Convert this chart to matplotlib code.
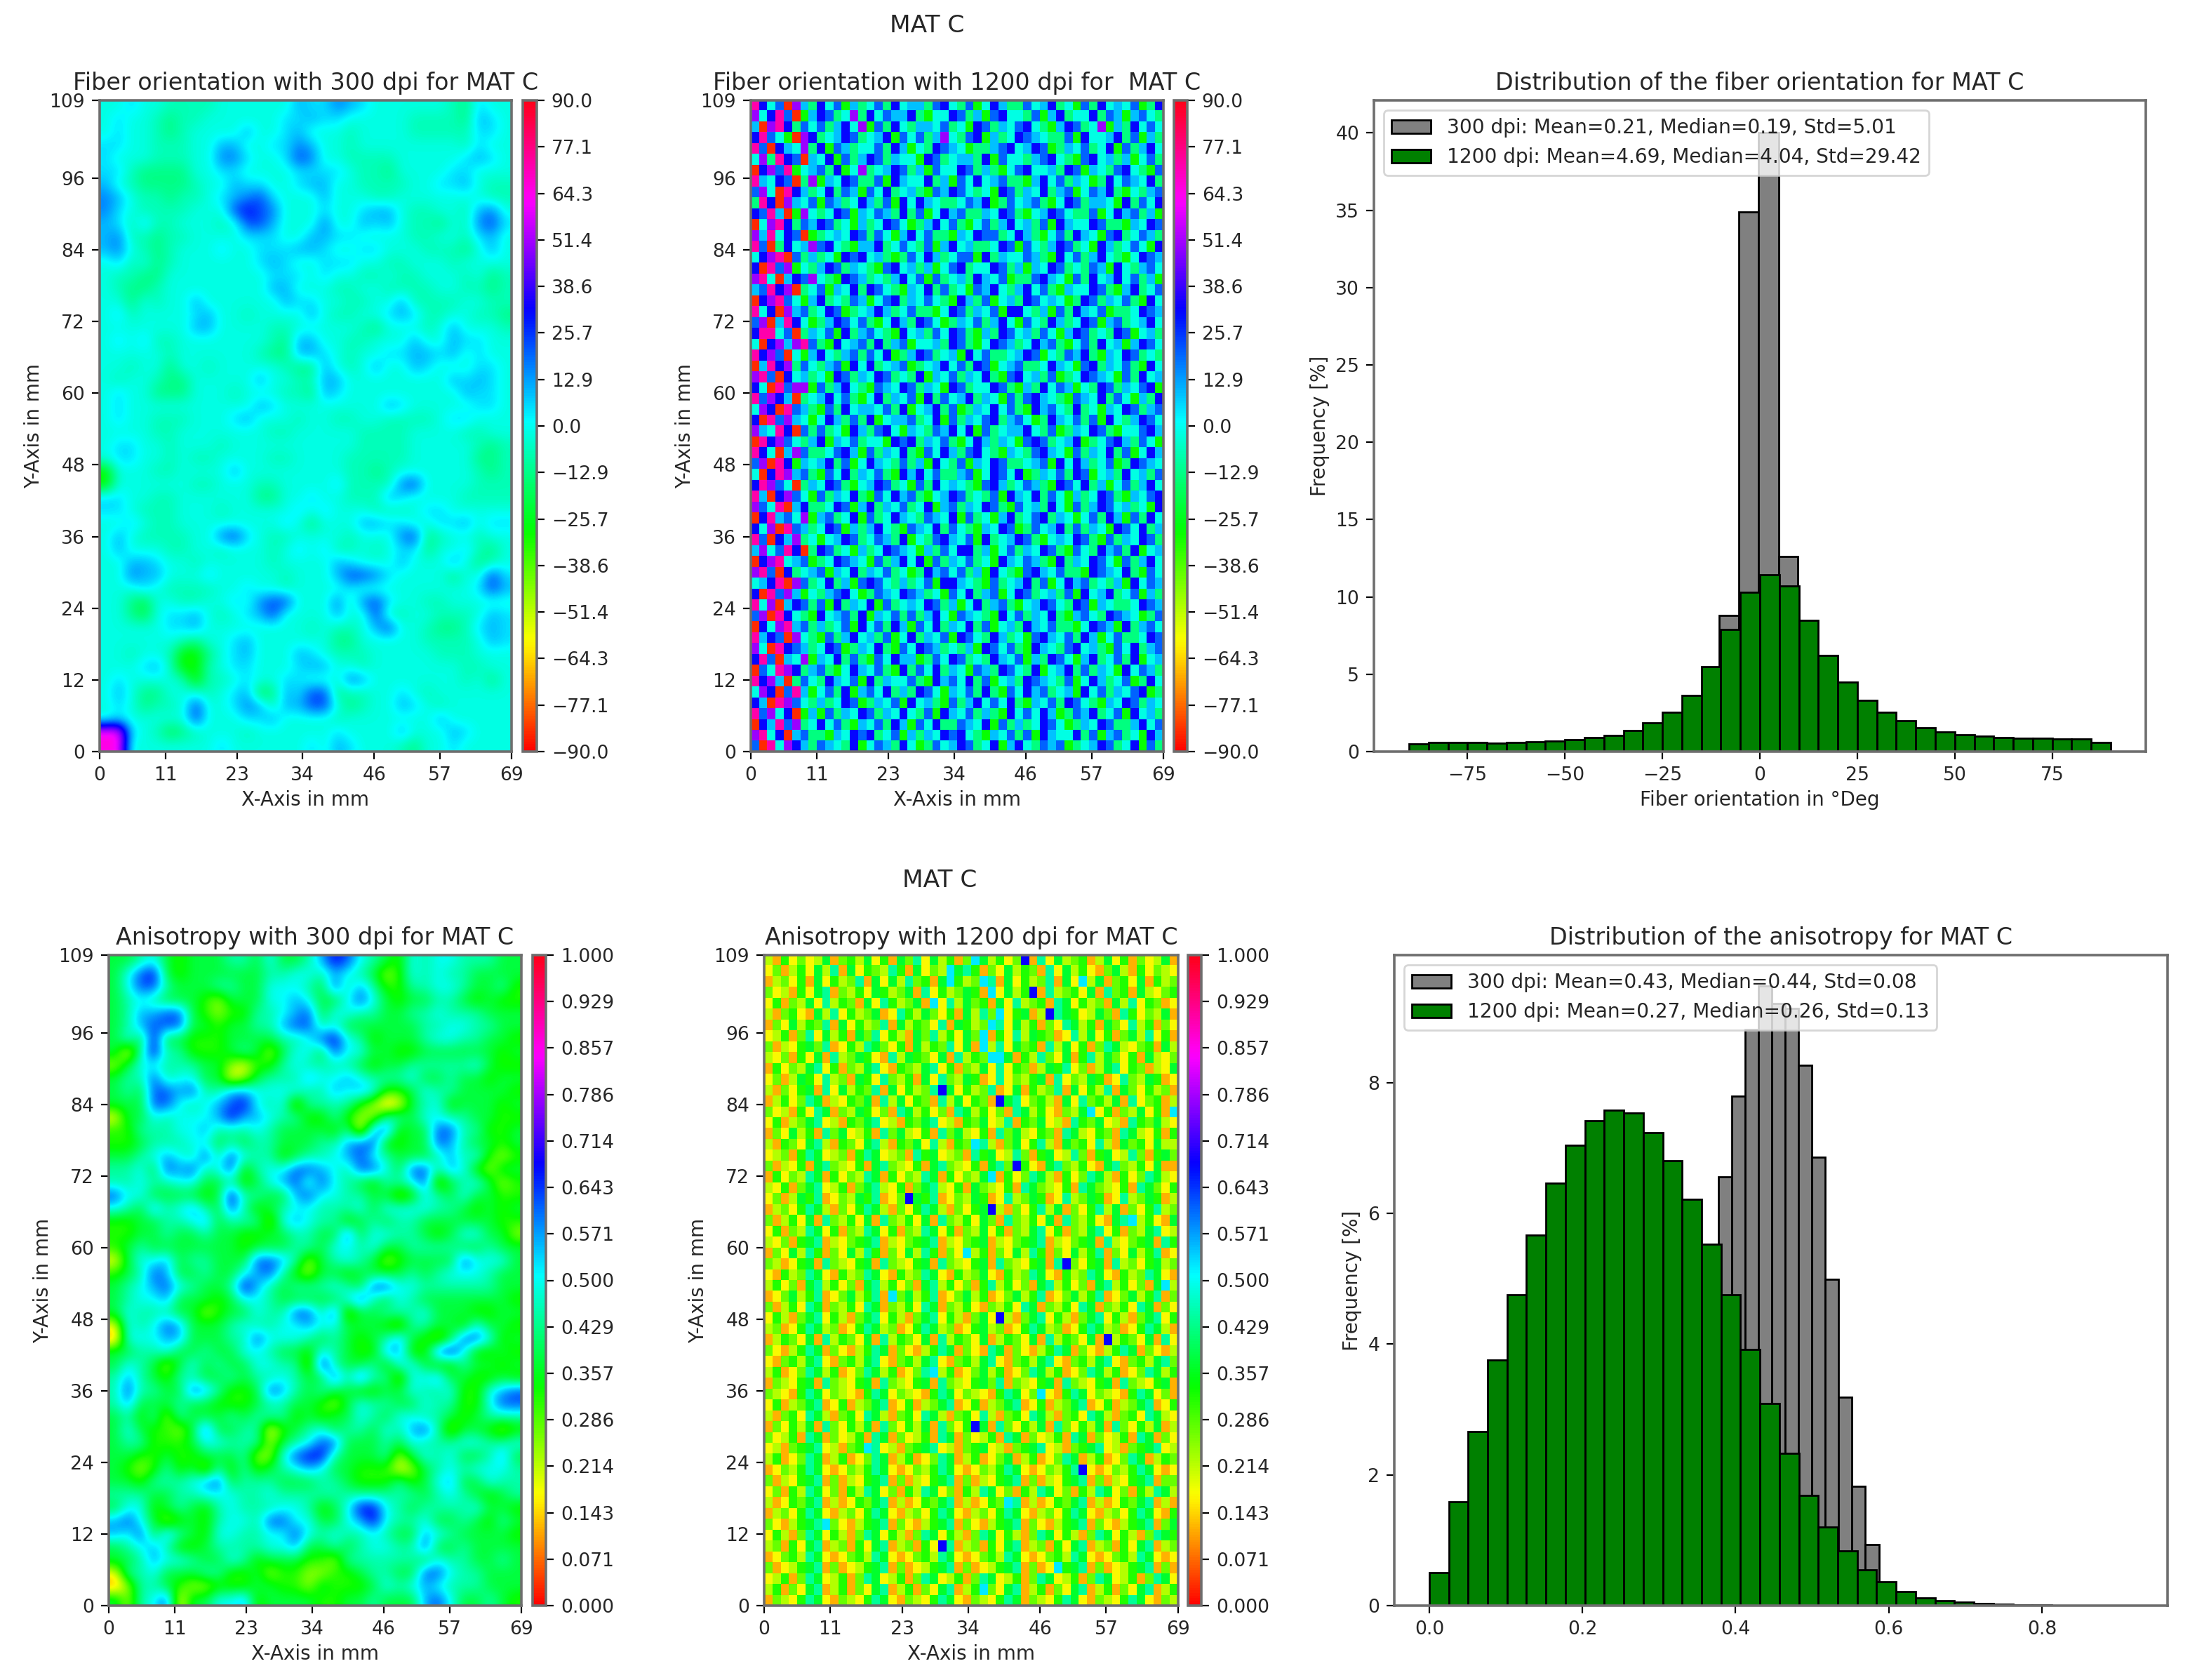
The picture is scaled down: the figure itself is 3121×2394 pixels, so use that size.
import numpy as np
import matplotlib
matplotlib.use("Agg")
import matplotlib.pyplot as plt

W, H, DPI = 3121, 2394, 200
TXT = "#262626"
plt.rcParams.update({"font.size": 9.6, "text.color": TXT, "axes.labelcolor": TXT,
                     "xtick.labelcolor": TXT, "ytick.labelcolor": TXT,
                     "axes.edgecolor": "#6e6e6e", "axes.linewidth": 1.3,
                     "xtick.major.size": 4, "ytick.major.size": 4})

KEYS = "0123456789m"

# maps: each character is one coarse cell, top row first
FO300_LEVELS = [-30, -20, -13, -7, -2, 5, 10, 16, 23, 32, 65]
FO300 = [
"44544333344444465576544444432544","45443233444444556554444433332654","45443234444644564443444433333554",
"55443334466445576443444444443544","54443334477544587443333444445654","55322224455444455554332444455444",
"64322223446554456644333344556433","76433233456785444644433444444433","75433334448987444544566433443674",
"65353344434886444744656433243785","67332334444555446655444433443564","67432344454455566544554443332464",
"45342344444456544555443344434444","43322444444445554544334334443423","43223444444446644433443333443323",
"44243446444444655443344633334433","45344445644344446433445653344332","44444446644443344444324443464443",
"45453344444443266443344464465544","44444344444432266543445566564544","44344244344444322643464465444554",
"43443224444464433664444444465654","45442224443444332654444444446554","45444444444465444444446544444554",
"45443334445644434433443333455444","44443344444443344444333344443344","45544344434444444444333344444323",
"45544343344443344443333344444223","04443344446444444443323444444323","04444443344433444453333784444333",
"55443344444422445443336544443333","55433344434444454544433345544444","44543344444444542444665544556455",
"46433334478543344443444782344344","46444334434443454533434552445324","44665443444443444465444644464234",
"44766444544444344468875444424485","44454333344544344445444444444586","44214433445478844473785443344444",
"44214556434568444464483344333465","44444556444444443433468443223565","44444432445644444422444443333465",
"44344300245644465433344444333444","44456300345544456644344444443344","45444430334544554447644444443424",
"46422444345612658823344543444444","45423348445763668842344654344444","45444448444556444434444444644444",
"mm543123444344444454444644465444","mm444444454444445465444324454444",
]

A300_LEVELS = [0.10, 0.17, 0.24, 0.32, 0.38, 0.45, 0.50, 0.56, 0.62, 0.68]
A300 = [
"44564344455464457986543656655544","46894344444455665765423656554444","46885444554466654857533556654453",
"45654443244466764468643445543433","45778843233556784665544556555444","45788844344557885644444455665544",
"46494433344445568965344456655443","41595533345424664866443344444434","24665554421335655554344555556433",
"45585664412455576676555644544344","45488785577666655767633465544443","44488656789656255553201456344434",
"14465666797765533532255466554433","33555667555654444351783448855334","33455566454554445578833448754434",
"44567658586553455678654445756323","55648785683566887658864885763244","55655664453467858654355682456423",
"86644443495544786655442365464433","65475675485345665556466665543434","33445567455526765534545544444433",
"33445445443344554484665543466442","34544444443444554665644555544544","14667455444887524565423444486664",
"34587445446785324434444545666544","45678654459754555654886655555544","45667444346654444468546544444443",
"46555442344655885824455564443344","16568744456556676644432554436443","06667744455866654543457432488634",
"44556445446654436543377338963343","46542464544665529544536643354434","57543554454556544858552667443343",
"58554487533487545443344655633678","57444544333455443246554465533688","45352544454555343446546655434555",
"46433248445513456455465785244323","45533346655524568844454655566556","44334334445226899544452465644574",
"43235342535345676443331245656665","44355567845554445543335346744655","55544556665565555555555545654345",
"46634543565556653469965455556443","78642343566588664467965564454354","76847543665566865655654476544443",
"45675334555566744545665584454444","44576654465344433255555546554454","15564445533423322334554488655444",
"02554322333443324333465676555444","42568144667344443344544478644543",
]

FO1200_LEVELS = [-85, -60, -30, -14, -2, 9, 20, 32, 50, 72]
FO1200 = [
"97460853746253463745536743624753364573426374546237",
"84796025763483746557324476352674436257344736525643",
"50897364635748263743554634276354674325763482537464",
"79642087345763457264635843672534765433627445736253",
"96075483726534463752437654233567457623546347263574",
"48397605472635763544276345537264435674326745352463",
"07869245637248345763526447635324674453762543674326",
"95476038254763362754473526474563325746354237465473",
"68409753473652647345326576434276354735624657324356",
"39708546265347536274754334657236456324763554273647",
"76950284347625465373624756335476324576433624756352",
"04897365763425347642357463246357453627544763325476",
"85947602345476364257463325476634753246375426734653",
"96037458674325573464362574533476264357634275346427",
"47890635342767453236475346627354465327463574324765",
"70968243576354326745352467344763525476343652743564",
"89405768432765343574626345375462336754263745746352",
"56978034625473764325473634265743574632544763257346",
"07896425734365246735464327536245376454237635463274",
"94708563476234575346332476354627743526375462334765",
"68059742357646324753764235463574264375347625634574",
"79946035462735643274536476325376453642576343762453",
"40785896327456373562445376324765347563246374525764",
"97860425743563647235763452746334576243657325476343",
"05978364356274734562345746376245633475426735463274",
"89607453427635476343725463547326745362347654263745",
"74096882635743265476354276344763253746524376354672",
"96875034574632473546273645735426367543265473642537",
"48709653263745546372457362354746327564373425476356",
"70968542475363724556347263546735642375463627435764",
"85497063634275367425436574726345574362354763244675",
"09786435725463442767354632475354267634572346753642",
"97405863346752635473264753674325436754263547362475",
"68097254573624754363527436254763345627475346237654",
"40798563264735463275746335624764723546376245374536",
"79864035476324576342637454326753465327647352463574",
"95078642635473264756324576343627547364253476325467",
"86490573347625735463472563547632645374263576453427",
"07956482563472634754365472634257346735424637526374",
"74809653476253574326547364325476236457363542764735",
"96075834245763465372436754627345763245476326354763",
"58469703763425347654253647735246354763264375637245",
"07894562347654263574726354634275465327354764263574",
"89607345625473546342375646352743267546332765473264",
"45790863473526764353462775432634573624756343527465",
"70968524356742365476534264735624763453627457346253",
"94805763627354726345476352473563245764376254334765",
"68097432745637254636357426543274635473256437654236",
"07489563534627463752647354736245375463324765273564",
"95760843263574536247354627643753426754637524633476",
"84097653476235473264765343527646327543674532647356",
"79605482547363264755236476343754625376425734637245",
"06498735632475463273647354265376437245736354274653",
"97850364375462735446327564736245376543624753462374",
"48706952463725647353764254637326475634527463546723",
"75098643534762354627453263574647325463764325476354",
"96847025263547635474362754635327464752365734627453",
"07596834746325463752647336547263534764235476335746",
"89470563325476734625354767432546362754473625634275",
"60948753654372465374236457634725743656234576347263",
]

A1200_LEVELS = [0.06, 0.12, 0.17, 0.22, 0.27, 0.32, 0.37, 0.44, 0.52, 0.68]
A1200 = [
"31524236145362516472635148635249172634513625142361",
"24135263716254375162438675142635417263521463152432",
"13425162534716263745162534871625347162836145261534",
"42315267143526534617253465182635917345261745163245",
"25143627354162753461827364516273451762534163725412",
"31452163725346127536425163748256134765236417524361",
"14263547162534716354271653487263514276351642735142",
"23514726351647253164735264815273654127362514637251",
"41325647125376425163547261837264517362514763245163",
"32415261734652173654261735428615374261573642516324",
"15243672514367215436725143627254136572413672541326",
"24136527341652743516274365127243561724365127436512",
"31425617263547162534716253471261534716253716425341",
"13524761325461736254173625419672453162745361724513",
"42315276143652417635241763524176352143672514362518",
"25134672315467231546723154623715462317546231754632",
"14263517462351746325174632517463254176325417632515",
"31542673154267315462731546731462573164527316452633",
"23415762341576234175623417562374156237415623741564",
"41325167432516743251674325167435216743521674352611",
"15243761524376152437615243681524763152476315247632",
"32514672351467325146732516432517643251764325176425",
"24136571243657124365712436512734651273465127346513",
"13425763142576314257631425693142573614257361425734",
"41352617435261743526174352641743526174352167435216",
"25143762514376251437625143625143672514367251436723",
"32415671324567132456713245613245671324561732456175",
"14263751426375142637514263514263751426357142635712",
"43125617432561743256174325617432561734256173425634",
"21534762153476215347621534621534762153476215347621",
"35241673524167352416735241573524167352416735241683",
"12463571246357124635712463512463571246357124635714",
"41352761435276143527614352143527614352761435276142",
"25314672531467253146725314625314672531467253146725",
"34125763412576341257634125634125763412576341257631",
"13542617354261735426173542613542617354261735426172",
"42135761421357614213576142176142135761421357614213",
"21453672145367214536721453672145367214536721453674",
"35124763512476351247635124635124763512476351247635",
"14325617432561743256174325647143256174325617432561",
"43215762432157624321576243215762432157624321576241",
"25134671251346712513467125134671251346712513467125",
"31452763145276314527631452731452763145276314527632",
"14253617425361742536174253617425361742536174253613",
"42351761423517614235176142351761423517614235176142",
"23145672314567231456723145623145672314567231456723",
"35124761351247613512476135124613512476135124761354",
"12435762124357621243576212435762124357621243576212",
"41325671413256714132567141325671413256714132567144",
"24153762415376241537624153762415376241537624153763",
"31254671312546713125467131254671312546713125467131",
"13425762134257621342576213425762134257621342576215",
"42135671421356714213567142135671421356714213567146",
"25314762531476253147625314762531476253147625314765",
"34152671341526713415267134152671341526713415267134",
"12453762124537621245376212453762124537621245376212",
"41235671412356714123567141235671412356714123567141",
"23514762351476235147623514762351476235147623514762",
"35142671351426713514267135142671351426713514267135",
"14325762143257621432576214325761432576214325762143",
]

# single dark cells in the 1200 dpi anisotropy map: row, column, level digit
A1200_DOTS = [(2, 22, 8), (5, 34, 9), (9, 27, 8), (12, 21, 9), (14, 39, 8), (17, 25, 8), (19, 30, 9), (22, 17, 9),
              (24, 44, 8), (27, 24, 8), (28, 36, 9), (31, 15, 8), (33, 28, 9), (35, 41, 9), (38, 20, 8), (40, 33, 8),
              (43, 25, 9), (45, 12, 8), (47, 38, 9), (50, 29, 8), (52, 7, 8), (54, 21, 9), (56, 35, 8), (58, 26, 8)]

X_LIM, Y_LIM = 69, 109
X_TICKS = [0, 11, 23, 34, 46, 57, 69]
Y_TICKS = [0, 12, 24, 36, 48, 60, 72, 84, 96, 109]

FO_GREEN = [0.48, 0.6, 0.6, 0.57, 0.55, 0.57, 0.64, 0.7, 0.77, 0.9, 1.05, 1.37, 1.85, 2.52, 3.63, 5.48, 7.9, 10.3,
            11.43, 10.7, 8.47, 6.2, 4.5, 3.3, 2.55, 2.0, 1.56, 1.27, 1.11, 1.02, 0.92, 0.86, 0.86, 0.83, 0.8, 0.57]
FO_GRAY_EDGES = [-10.5, -5.4, -0.3, 4.8, 9.8]
FO_GRAY = [8.82, 34.9, 40.0, 12.6]

AN_GREEN = [0.5, 1.585, 2.66, 3.76, 4.76, 5.67, 6.46, 7.04, 7.42, 7.58, 7.54, 7.23, 6.8, 6.22, 5.53, 4.76, 3.92, 3.09,
            2.33, 1.68, 1.2, 0.84, 0.55, 0.36, 0.21, 0.12, 0.08, 0.05, 0.035, 0.02, 0.012, 0.008, 0.005, 0.004, 0.002, 0.001]
AN_GRAY = [6.56, 7.79, 8.81, 9.48, 9.21, 9.13, 8.27, 6.86, 4.99, 3.19, 1.83, 0.93]


def px_axes(x0, x1, y0, y1):
    return fig.add_axes([x0 / W, 1 - y1 / H, (x1 - x0) / W, (y1 - y0) / H])


def decode(rows, levels):
    n = max(len(r) for r in rows)
    return np.array([[levels[KEYS.index(c)] for c in r.ljust(n, "4")] for r in rows])


def heat_panel(box, cbox, data, title, vmin, vmax, fmt, interp):
    ax = px_axes(*box)
    im = ax.imshow(data, extent=[0, X_LIM, 0, Y_LIM], aspect="auto", cmap="hsv",
                   vmin=vmin, vmax=vmax, interpolation=interp)
    ax.set_xticks(X_TICKS)
    ax.set_yticks(Y_TICKS)
    ax.set_xlabel("X-Axis in mm", fontsize=10, labelpad=3)
    ax.set_ylabel("Y-Axis in mm", fontsize=10, labelpad=3)
    ax.set_title(title, fontsize=12, pad=5.5)
    cax = px_axes(*cbox)
    ticks = np.linspace(vmin, vmax, 15)
    cb = fig.colorbar(im, cax=cax, ticks=ticks)
    cb.set_ticklabels([fmt.format(t).replace("-", "\u2212") for t in ticks])
    cb.outline.set_edgecolor("#6e6e6e")


def hist_panel(box, gray_edges, gray, green_edges, green, labels, title, xlabel, xlim, ylim):
    ax = px_axes(*box)
    gray_edges = np.asarray(gray_edges)
    green_edges = np.asarray(green_edges)
    ax.hist(gray_edges[:-1], bins=gray_edges, weights=gray, color="gray", edgecolor="black", linewidth=1, label=labels[0])
    ax.hist(green_edges[:-1], bins=green_edges, weights=green, color="green", edgecolor="black", linewidth=1, label=labels[1])
    ax.set_xlim(*xlim)
    ax.set_ylim(*ylim)
    ax.set_ylabel("Frequency [%]", fontsize=10, labelpad=3)
    if xlabel:
        ax.set_xlabel(xlabel, fontsize=10, labelpad=3)
    ax.set_title(title, fontsize=12, pad=5.5)
    ax.legend(loc="upper left", fontsize=10.1)
    return ax


fig = plt.figure(figsize=(W / DPI, H / DPI), dpi=DPI)

a1200 = decode(A1200, A1200_LEVELS)
for row, col, digit in A1200_DOTS:
    a1200[row, col] = A1200_LEVELS[digit]

heat_panel((142, 729, 143, 1071), (745, 765, 143, 1071), decode(FO300, FO300_LEVELS),
           "Fiber orientation with 300 dpi for MAT C", -90, 90, "{:.1f}", "bicubic")
heat_panel((1070, 1658, 143, 1071), (1673, 1692, 143, 1071), decode(FO1200, FO1200_LEVELS),
           "Fiber orientation with 1200 dpi for  MAT C", -90, 90, "{:.1f}", "nearest")
hist_panel((1958, 3058, 143, 1071), FO_GRAY_EDGES, FO_GRAY, np.linspace(-90, 90, 37), FO_GREEN,
           ["300 dpi: Mean=0.21, Median=0.19, Std=5.01", "1200 dpi: Mean=4.69, Median=4.04, Std=29.42"],
           "Distribution of the fiber orientation for MAT C", "Fiber orientation in \u00b0Deg", (-99, 99), (0, 42.1))

heat_panel((155, 743, 1361, 2288), (759, 778, 1361, 2288), decode(A300, A300_LEVELS),
           "Anisotropy with 300 dpi for MAT C", 0, 1, "{:.3f}", "bicubic")
heat_panel((1089, 1679, 1361, 2288), (1693, 1712, 1361, 2288), a1200,
           "Anisotropy with 1200 dpi for MAT C", 0, 1, "{:.3f}", "nearest")
hist_panel((1987, 3089, 1361, 2288), np.linspace(0.3772, 0.587, 13), AN_GRAY, np.linspace(0, 0.9144, 37), AN_GREEN,
           ["300 dpi: Mean=0.43, Median=0.44, Std=0.08", "1200 dpi: Mean=0.27, Median=0.26, Std=0.13"],
           "Distribution of the anisotropy for MAT C", None, (-0.0457, 0.964), (0, 9.95))

fig.text(1321 / W, 1 - 36 / H, "MAT C", ha="center", va="center", fontsize=12.4)
fig.text(1339 / W, 1 - 1254 / H, "MAT C", ha="center", va="center", fontsize=12.4)

fig.savefig("out.png", dpi=DPI, facecolor="white")
